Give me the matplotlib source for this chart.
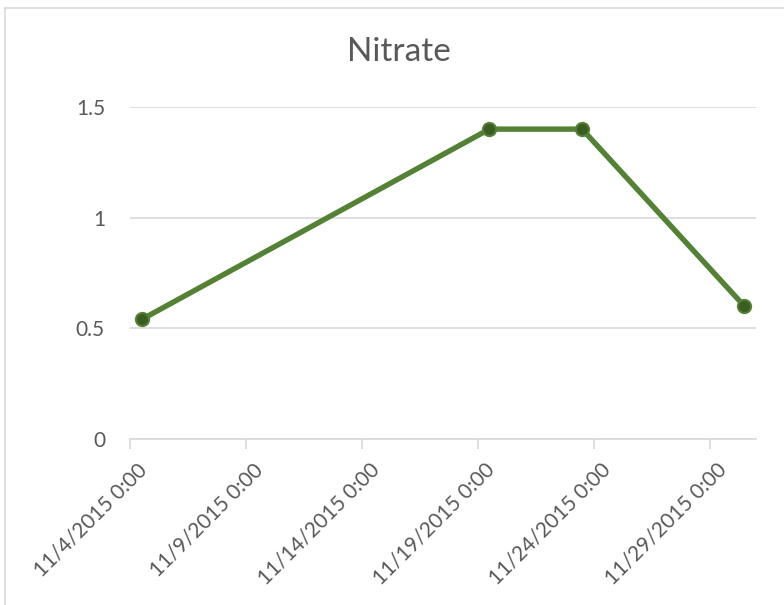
import matplotlib
matplotlib.use("Agg")
import matplotlib.pyplot as plt
import matplotlib.dates as mdates
import matplotlib.transforms as mtransforms
from matplotlib.lines import Line2D
import datetime as dt

# Data
dates = ["2015-11-04", "2015-11-19", "2015-11-23", "2015-11-30"]
nitrate = [0.54, 1.40, 1.40, 0.60]
tick_dates = ["2015-11-04", "2015-11-09", "2015-11-14", "2015-11-19", "2015-11-24", "2015-11-29"]
tick_labels = ["11/4/2015 0:00", "11/9/2015 0:00", "11/14/2015 0:00",
               "11/19/2015 0:00", "11/24/2015 0:00", "11/29/2015 0:00"]
y_ticks = [0, 0.5, 1, 1.5]
y_tick_labels = ["0", "0.5", "1", "1.5"]
title = "Nitrate"

plt.rcParams['font.family'] = ['Lato', 'DejaVu Sans']
txt = "#595959"
grid = "#d9d9d9"

fig = plt.figure(figsize=(7.84, 6.05), dpi=100)
ax = fig.add_axes([130/784, 1-439/605, (756-130)/784, (439-107)/605])

# Excel date axis places points in the middle of each day
x = [mdates.date2num(dt.datetime.fromisoformat(d)) + 0.5 for d in dates]
ax.plot(x, nitrate, color="#548235", lw=3.9, marker="o", ms=9.5,
        mfc="#3a5e22", mec="#548235", mew=1.5, solid_capstyle="round", zorder=3)

x0 = mdates.date2num(dt.datetime(2015, 11, 4))
x1 = mdates.date2num(dt.datetime(2015, 12, 1))
ax.set_xlim(x0, x1)
ax.set_ylim(0, 1.5)

ax.set_yticks(y_ticks)
ax.set_yticklabels(y_tick_labels, color=txt, fontsize=15)
ax.tick_params(axis="y", length=0, pad=18)
ax.yaxis.grid(True, color=grid, lw=1.2)
ax.set_axisbelow(True)

tx = [mdates.date2num(dt.datetime.fromisoformat(d)) for d in tick_dates]
ax.set_xticks(tx)
ax.set_xticklabels(tick_labels, color=txt, fontsize=15, rotation=45,
                   ha="right", va="top", rotation_mode="anchor")
ax.tick_params(axis="x", length=7, color=grid, width=1.2, pad=8)
offset = mtransforms.ScaledTranslation(7/100, 0, fig.dpi_scale_trans)
for lab in ax.get_xticklabels():
    lab.set_transform(lab.get_transform() + offset)

for s in ["top", "right", "left"]:
    ax.spines[s].set_visible(False)
ax.spines["bottom"].set_color(grid)
ax.spines["bottom"].set_linewidth(1.2)

fig.text(399/784, 1-52/605, title, ha="center", va="center", fontsize=24, color=txt)

# chart border (left and top edges visible)
fig.add_artist(Line2D([5/784, 5/784], [0, 1-8/605], color="#d9d9d9", lw=1.2))
fig.add_artist(Line2D([5/784, 1], [1-8/605, 1-8/605], color="#d9d9d9", lw=1.2))

fig.savefig("out.png", dpi=100)
